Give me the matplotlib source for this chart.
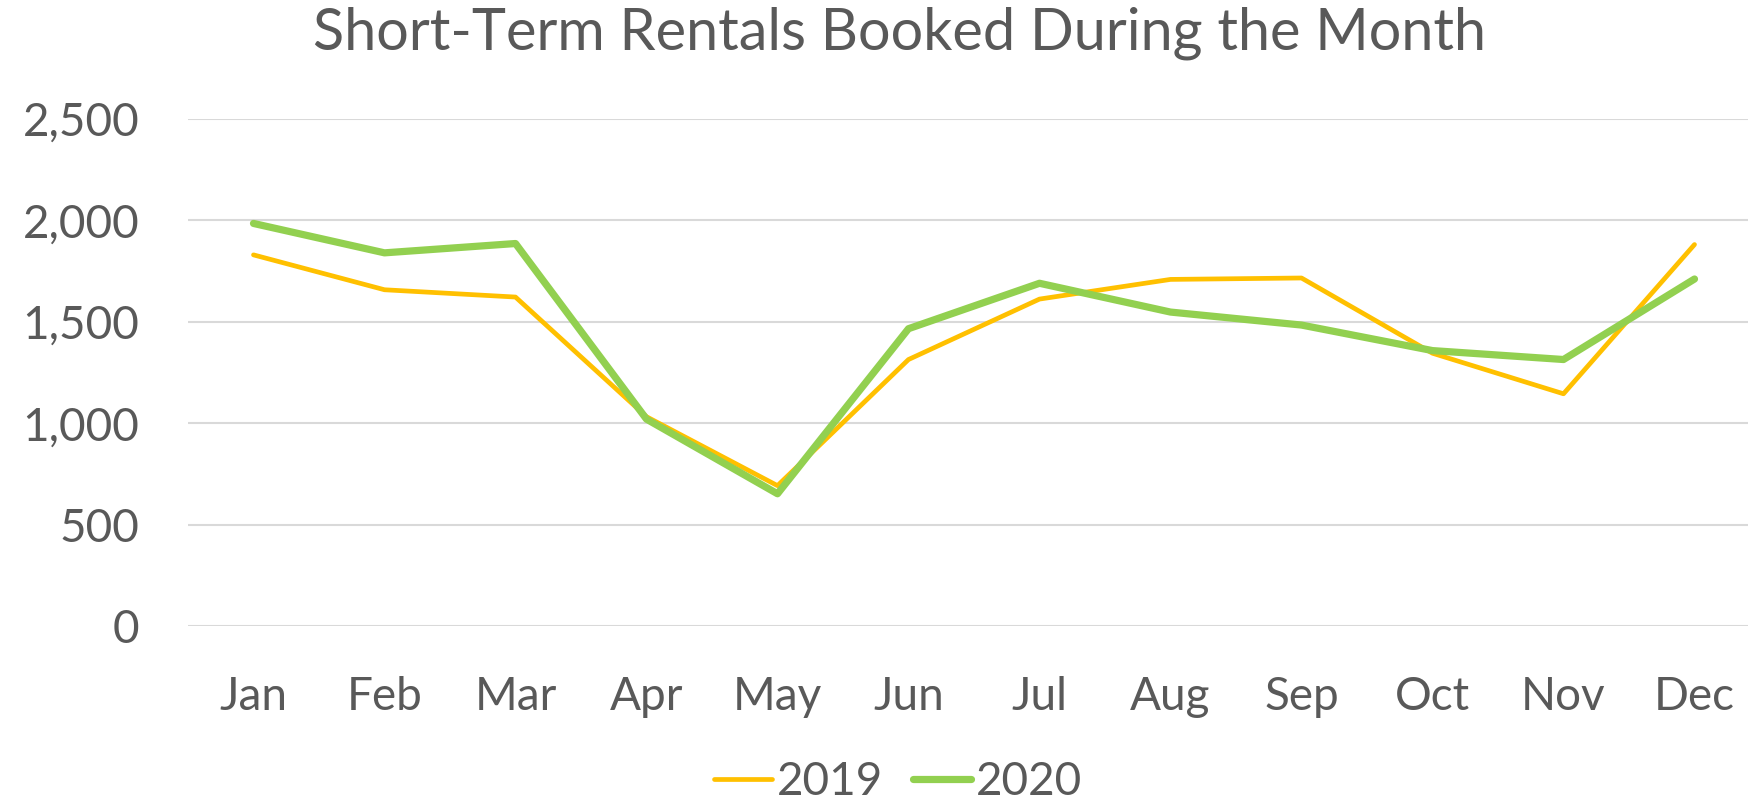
import matplotlib
matplotlib.use("Agg")
import matplotlib.pyplot as plt
from matplotlib.ticker import FuncFormatter, MultipleLocator

months = ["Jan", "Feb", "Mar", "Apr", "May", "Jun", "Jul", "Aug", "Sep", "Oct", "Nov", "Dec"]
rentals_2019 = [1830, 1658, 1622, 1032, 692, 1314, 1612, 1709, 1716, 1345, 1145, 1881]
rentals_2020 = [1985, 1840, 1886, 1020, 652, 1466, 1690, 1548, 1484, 1358, 1314, 1711]
series_labels = ["2019", "2020"]

TXT = "#595959"
plt.rcParams["font.family"] = ["Lato", "DejaVu Sans"]

fig = plt.figure(figsize=(17.49, 8.02), dpi=100)
W, H = 1749, 802
left, right = 188, 1760
top, bottom = 119, 626
ax = fig.add_axes([left / W, 1 - bottom / H, (right - left) / W, (bottom - top) / H])

x = list(range(len(months)))
ax.plot(x, rentals_2019, color="#FFC000", lw=3.4, solid_capstyle="round",
        solid_joinstyle="round", label=series_labels[0], zorder=3)
ax.plot(x, rentals_2020, color="#92D050", lw=5.2, solid_capstyle="round",
        solid_joinstyle="round", label=series_labels[1], zorder=4)

ax.set_xlim(-0.5, len(months) - 0.5)
ax.set_ylim(0, 2500)
ax.yaxis.set_major_locator(MultipleLocator(500))
ax.yaxis.set_major_formatter(FuncFormatter(lambda v, p: f"{int(v):,}"))
ax.set_xticks(x)
ax.set_xticklabels(months)
ax.grid(axis="y", color="#D9D9D9", lw=1.5)
ax.set_axisbelow(True)
for s in ax.spines.values():
    s.set_visible(False)
ax.tick_params(axis="both", length=0, colors=TXT, labelsize=33)
ax.tick_params(axis="x", pad=36)
ax.tick_params(axis="y", pad=35)

fig.text(900 / W, 1 - 33 / H, "Short-Term Rentals Booked During the Month",
         ha="center", va="center", fontsize=41.5, color=TXT)

leg = fig.legend(loc="center", bbox_to_anchor=(898 / W, 1 - 782 / H), ncol=2,
                 frameon=False, fontsize=33, handlelength=1.27, handletextpad=0.1,
                 columnspacing=0.65, labelcolor=TXT)

fig.savefig("out.png", dpi=100, facecolor="white")
